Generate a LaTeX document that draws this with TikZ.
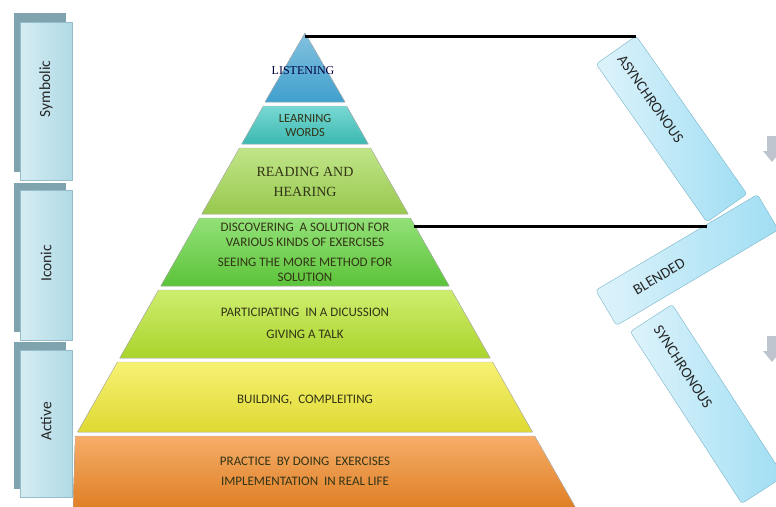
\documentclass[tikz,border=0pt]{standalone}
\usepackage{fontspec}
\setmainfont{Carlito}
\newfontfamily\timesfont{Liberation Serif}
\usepackage{xcolor}
\usepackage{tikz}
\usetikzlibrary{positioning,calc}
\definecolor{sidefill}{RGB}{176,218,230}
\definecolor{sidelight}{RGB}{214,236,242}
\definecolor{sideedge}{RGB}{150,190,202}
\definecolor{sideshadow}{RGB}{128,163,176}
\definecolor{modefill}{RGB}{160,222,243}
\definecolor{modelight}{RGB}{222,243,251}
\definecolor{modeedge}{RGB}{118,180,200}
\definecolor{listenblue}{RGB}{64,160,205}
\definecolor{wordsteal}{RGB}{64,200,192}
\definecolor{readgreen}{RGB}{165,218,85}
\definecolor{discgreen}{RGB}{100,212,62}
\definecolor{partlime}{RGB}{185,230,48}
\definecolor{buildyellow}{RGB}{242,236,55}
\definecolor{practorange}{RGB}{242,138,40}
\definecolor{pyrtext}{RGB}{50,52,22}
\definecolor{arrowgray}{RGB}{190,196,206}

\begin{document}
\begin{tikzpicture}[x=1pt, y=-1pt,
    sidebox/.style={draw=sideedge, left color=sidelight, right color=sidefill,
        rotate=90, minimum height=52pt, inner sep=0pt,
        font=\fontsize{15.5}{18}\selectfont, text=black!85},
    modebox/.style={draw=modeedge, rounded corners=3pt, left color=modelight,
        right color=modefill, inner xsep=8pt, inner ysep=0pt, align=left,
        font=\fontsize{15}{17}\selectfont, text=black!85},
    layer/.style={draw=gray!55, line width=0.4pt},
    pyrlabel/.style={align=center, text=pyrtext, font=\fontsize{13}{15}\selectfont},
    connector/.style={line width=3pt, black}]
    \useasboundingbox (0,0) rectangle (776,506);
    \clip (0,0) rectangle (776,506);
    % Pyramid layers
    \filldraw[layer, top color=listenblue!65!white, bottom color=listenblue]
        (305,33) -- (345,102) -- (265,102) -- cycle;
    \foreach \t/\b/\c in {106/144/wordsteal, 148/214/readgreen, 218/286/discgreen,
        290/358/partlime, 362/432/buildyellow, 436/508/practorange} {
        \filldraw[layer, top color=\c!70!white, middle color=\c, bottom color=\c!92!black]
            ({max(305-0.57*(\t-33),73)},\t) -- ({305+0.57*(\t-33)},\t)
            -- ({305+0.57*(\b-33)},\b) -- ({max(305-0.57*(\b-33),73)},\b) -- cycle;
    }
    % Layer texts
    \node[pyrlabel, font=\timesfont\fontsize{12}{14}\selectfont, text=black!75!blue] (listen) at (303,71) {LISTENING};
    \node[pyrlabel, font=\fontsize{12.5}{14}\selectfont] (words) at (305,125) {LEARNING\\WORDS};
    \node[pyrlabel, font=\timesfont\fontsize{14}{20}\selectfont] (reading) at (305,182) {READING AND\\HEARING};
    \node[pyrlabel] (discover) at (305,252)
        {DISCOVERING\ \ A SOLUTION FOR\\VARIOUS KINDS OF EXERCISES\\[5pt]SEEING THE MORE METHOD FOR\\SOLUTION};
    \node[pyrlabel] (participate) at (305,323)
        {PARTICIPATING\ \ IN A DICUSSION\\[7pt]GIVING A TALK};
    \node[pyrlabel] (build) at (305,400) {BUILDING,\ \ COMPLEITING};
    \node[pyrlabel] (practice) at (305,471)
        {PRACTICE\ \ BY DOING\ \ EXERCISES\\[5pt]IMPLEMENTATION\ \ IN REAL LIFE};
    % Left column
    \fill[sideshadow] (14,13) rectangle (66,172);
    \fill[sideshadow] (14,183) rectangle (66,332);
    \fill[sideshadow] (14,342) rectangle (66,489);
    \node[sidebox, minimum width=158pt] (sym) at (46,101) {\hspace*{24pt}Symbolic};
    \node[sidebox, minimum width=150pt] (ico) at (46,265.5) {\hspace*{4pt}Iconic};
    \node[sidebox, minimum width=147pt] (act) at (46,423.5) {\hspace*{4pt}Active};
    % Learning modes
    \node[modebox, minimum width=193pt, minimum height=49pt, text width=177pt, rotate=-55]
        (async) at (671.5,129) {ASYNCHRONOUS};
    \node[modebox, minimum width=205pt, minimum height=50pt, text width=183pt, inner xsep=11pt, rotate=-57]
        (sync) at (707,404) {SYNCHRONOUS};
    \node[modebox, minimum width=188pt, minimum height=41pt, text width=172pt, rotate=30.6]
        (blend) at (687,260) {\hspace*{25pt}BLENDED};
    % Connectors
    \coordinate (apex) at (305,36);
    \coordinate (disctop) at (414,226);
    \draw[connector] (apex) -- (apex -| async.north west);
    \draw[connector] (disctop) -- (disctop -| async.south east);
    % Arrows at the right edge
    \fill[arrowgray] (767,136) -- (778,136) -- (778,151) -- (781,151) -- (772,162)
        -- (763,151) -- (767,151) -- cycle;
    \fill[arrowgray] (767,336) -- (778,336) -- (778,351) -- (781,351) -- (772,362)
        -- (763,351) -- (767,351) -- cycle;
\end{tikzpicture}
\end{document}
